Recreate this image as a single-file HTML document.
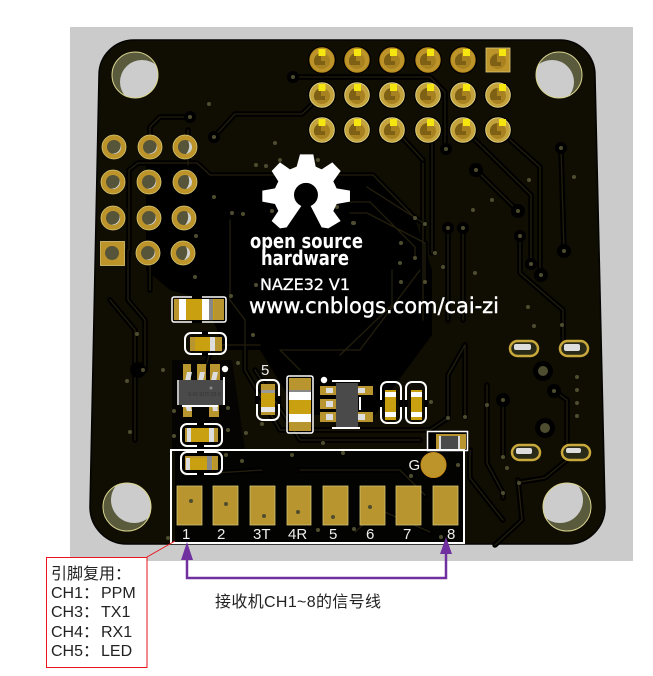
<!DOCTYPE html>
<html><head><meta charset="utf-8"><style>
html,body{margin:0;padding:0;background:#fff}
svg{display:block}
text{font-family:"Liberation Sans","Noto Sans CJK SC",sans-serif}
.s{font-family:"DejaVu Sans","Liberation Sans",sans-serif;fill:#fff}
.l{font-size:15px;fill:#eee}
.t{fill:#222;font-size:16px}
</style></head><body>
<svg width="653" height="676" viewBox="0 0 653 676" xmlns="http://www.w3.org/2000/svg">
<defs>
<clipPath id="h1"><circle cx="135" cy="75" r="23"/></clipPath>
<clipPath id="h2"><circle cx="559" cy="75" r="23"/></clipPath>
<clipPath id="h3"><circle cx="127" cy="507" r="24"/></clipPath>
<clipPath id="h4"><circle cx="567" cy="507" r="24"/></clipPath>
<g id="tp"><circle r="12.3" fill="#bd9429" stroke="#b5861a" stroke-width=".8"/><circle cy="1" r="8" fill="#a88220"/><path d="M-1 -7A8 8 0 0 0 -7 5L3 5L3 1L-1 1Z" fill="#7e6114"/></g>
<g id="tq"><circle r="12.3" fill="#c4a23c" stroke="#dccf80" stroke-width="1"/><circle cy="1" r="8" fill="#a88220"/><path d="M-1 -7A8 8 0 0 0 -7 5L3 5L3 1L-1 1Z" fill="#7e6114"/></g>
<g id="lp"><circle r="12" fill="#bd9429" stroke="#d6c778" stroke-width=".8"/><circle r="7" fill="#56553a"/><path d="M6.500 -3A7 7 0 0 1 -2.500 6.500A8 8 0 0 0 6.500 -3Z" fill="#d2d2cc"/></g>
<g id="lr"><circle r="12" fill="#bd9429" stroke="#d6c778" stroke-width=".8"/><circle r="7" fill="#56553a"/><path d="M3 -6.300A7 7 0 0 1 1 7A12 12 0 0 0 3 -6.300Z" fill="#d2d2cc"/></g>
</defs>
<rect width="653" height="676" fill="#fff"/>
<rect x="70" y="27" width="563" height="534" fill="#cbcbcb"/>
<!-- board -->
<path d="M134 40H560A35 35 0 0 1 595 75L605 507A37 37 0 0 1 568 544H127A37 37 0 0 1 90 507L99 75A35 35 0 0 1 134 40Z" fill="#100d03" stroke="#040402" stroke-width="1.500"/>
<!-- black pour -->
<path d="M146 165H195L210 177H372L416 222L432 270V335L395 385L375 415H300L260 350H225L205 300L170 290L146 270Z" fill="#000"/>
<path d="M172 360L232 360L245 450H172Z" fill="#050402"/>
<path d="M175 450H465V544H175Z" fill="#030302"/>
<!-- trace halo -->
<g fill="none" stroke-linejoin="round" stroke-linecap="round">
<g stroke="#000" stroke-width="5.500">
<path d="M190 117H160L150 127V147M214 137L235 114H302L322 95M293 77H430L445 92V149M129 250V170L138 163H197L210 175H373L415 218M367 187L425 224M350 202H370L415 247V258M350 213H367L425 243V282M423 163V320M400 135L423 160M432 140V253M448 228V320M463 228V320M475 140L531 195V264M510 140L540 167V275M476 170L518 211M520 236V273L563 310V345M561 148L564 251M487 385V463L503 493V498M503 400V455M554 391L567 400V460L545 478L520 482M448 418V375L465 345V417M188 130V165M150 260V290M128 250V300L145 320V370M110 300L135 330V440M230 220V300L245 320V370L280 430H430L448 418M255 370L300 440H420M300 370L280 350L360 350L420 270M205 370L212 345H260M185 475L262 470M300 470L400 470L425 495M355 532L380 510L430 532M470 450V478L495 510L503 520M495 545L522 520L518 480M340 355L392 305L392 270"/>
</g>
<g stroke="#231e0c" stroke-width="1.300">
<path d="M190 117H160L150 127V147M214 137L235 114H302L322 95M293 77H430L445 92V149M129 250V170L138 163H197L210 175H373L415 218M367 187L425 224M350 202H370L415 247V258M350 213H367L425 243V282M423 163V320M400 135L423 160M432 140V253M448 228V320M463 228V320M475 140L531 195V264M510 140L540 167V275M476 170L518 211M520 236V273L563 310V345M561 148L564 251M487 385V463L503 493V498M503 400V455M554 391L567 400V460L545 478L520 482M448 418V375L465 345V417M188 130V165M150 260V290M128 250V300L145 320V370M110 300L135 330V440M230 220V300L245 320V370L280 430H430L448 418M255 370L300 440H420M300 370L280 350L360 350L420 270M205 370L212 345H260M185 475L262 470M300 470L400 470L425 495M355 532L380 510L430 532M470 450V478L495 510L503 520M495 545L522 520L518 480M340 355L392 305L392 270"/>
</g>
</g>
<!-- vias -->
<g fill="#000"><circle cx="190" cy="117" r="6"/><circle cx="214" cy="137" r="6"/><circle cx="293" cy="77" r="6"/><circle cx="446" cy="149" r="6"/><circle cx="476" cy="170" r="7"/><circle cx="518" cy="211" r="7"/><circle cx="520" cy="236" r="6"/><circle cx="561" cy="148" r="6"/><circle cx="564" cy="251" r="7"/><circle cx="531" cy="264" r="6"/><circle cx="541" cy="275" r="7"/><circle cx="448" cy="228" r="6"/><circle cx="463" cy="228" r="6"/><circle cx="243" cy="214" r="6"/><circle cx="138" cy="370" r="8"/><circle cx="543" cy="371" r="10"/><circle cx="545" cy="428" r="10"/><circle cx="554" cy="391" r="7"/><circle cx="503" cy="400" r="7"/></g>
<g fill="#4f4d30">
<circle cx="209" cy="104" r="2"/><circle cx="190" cy="117" r="2"/><circle cx="214" cy="137" r="2"/><circle cx="293" cy="77" r="2"/><circle cx="275" cy="143" r="2"/><circle cx="256" cy="165" r="2"/><circle cx="266" cy="166" r="2"/><circle cx="280" cy="160" r="2"/><circle cx="318" cy="160" r="2"/><circle cx="214" cy="197" r="2"/><circle cx="232" cy="213" r="2"/><circle cx="243" cy="214" r="2"/><circle cx="272" cy="211" r="2"/><circle cx="337" cy="207" r="2"/><circle cx="354" cy="223" r="2"/><circle cx="196" cy="236" r="2"/><circle cx="195" cy="277" r="2"/><circle cx="256" cy="285" r="2"/><circle cx="446" cy="149" r="2"/><circle cx="476" cy="170" r="2"/><circle cx="518" cy="211" r="2"/><circle cx="520" cy="236" r="2"/><circle cx="561" cy="148" r="2"/><circle cx="564" cy="251" r="2"/><circle cx="531" cy="264" r="2"/><circle cx="541" cy="275" r="2"/><circle cx="529" cy="180" r="2"/><circle cx="574" cy="177" r="2"/><circle cx="492" cy="200" r="2"/><circle cx="473" cy="210" r="2"/><circle cx="415" cy="218" r="2"/><circle cx="425" cy="224" r="2"/><circle cx="353" cy="223" r="2"/><circle cx="401" cy="243" r="2"/><circle cx="415" cy="258" r="2"/><circle cx="400" cy="263" r="2"/><circle cx="401" cy="282" r="2"/><circle cx="425" cy="282" r="2"/><circle cx="443" cy="267" r="2"/><circle cx="435" cy="253" r="2"/><circle cx="448" cy="228" r="2"/><circle cx="463" cy="228" r="2"/><circle cx="475" cy="273" r="2"/><circle cx="528" cy="307" r="2"/><circle cx="137" cy="334" r="2"/><circle cx="127" cy="381" r="2"/><circle cx="130" cy="432" r="2"/><circle cx="143" cy="370" r="2"/><circle cx="163" cy="370" r="2"/><circle cx="174" cy="411" r="2"/><circle cx="174" cy="436" r="2"/><circle cx="253" cy="335" r="2"/><circle cx="238" cy="363" r="2"/><circle cx="228" cy="408" r="2"/><circle cx="228" cy="430" r="2"/><circle cx="246" cy="433" r="2"/><circle cx="262" cy="424" r="2"/><circle cx="323" cy="443" r="2"/><circle cx="226" cy="455" r="2"/><circle cx="242" cy="461" r="2"/><circle cx="292" cy="455" r="2"/><circle cx="343" cy="453" r="2"/><circle cx="411" cy="476" r="2"/><circle cx="458" cy="465" r="2"/><circle cx="231" cy="296" r="2"/><circle cx="431" cy="402" r="2"/><circle cx="448" cy="418" r="2"/><circle cx="465" cy="417" r="2"/><circle cx="487" cy="405" r="2"/><circle cx="503" cy="400" r="2"/><circle cx="503" cy="457" r="2"/><circle cx="507" cy="468" r="2"/><circle cx="519" cy="483" r="2"/><circle cx="503" cy="493" r="2"/><circle cx="554" cy="391" r="2"/><circle cx="577" cy="377" r="2"/><circle cx="577" cy="390" r="2"/><circle cx="577" cy="403" r="2"/><circle cx="577" cy="416" r="2"/><circle cx="534" cy="326" r="2"/><circle cx="562" cy="325" r="2"/><circle cx="168" cy="538" r="2"/><circle cx="318" cy="530" r="2"/><circle cx="354" cy="529" r="2"/><circle cx="441" cy="537" r="2"/>
<circle cx="543" cy="371" r="5"/><circle cx="545" cy="428" r="5"/>
</g>
<!-- mounting holes -->
<g fill="#5a5a3c">
<circle cx="135" cy="75" r="23"/><circle cx="559" cy="75" r="23"/><circle cx="127" cy="507" r="24"/><circle cx="567" cy="507" r="24"/>
</g>
<g fill="#cccccc">
<circle cx="142" cy="82" r="22" clip-path="url(#h1)"/><circle cx="552" cy="82" r="22" clip-path="url(#h2)"/><circle cx="134" cy="500" r="23" clip-path="url(#h3)"/><circle cx="560" cy="500" r="23" clip-path="url(#h4)"/>
</g>
<g fill="none" stroke="#d9d58e" stroke-width="1"><circle cx="135" cy="75" r="23"/><circle cx="559" cy="75" r="23"/><circle cx="127" cy="507" r="24"/><circle cx="567" cy="507" r="24"/></g>
<!-- top header -->
<g fill="#000"><circle cx="322" cy="60" r="14"/><circle cx="357" cy="60" r="14"/><circle cx="392" cy="60" r="14"/><circle cx="428" cy="60" r="14"/><circle cx="463" cy="60" r="14"/><circle cx="322" cy="95" r="14"/><circle cx="357" cy="95" r="14"/><circle cx="392" cy="95" r="14"/><circle cx="428" cy="95" r="14"/><circle cx="463" cy="95" r="14"/><circle cx="498" cy="95" r="14"/><circle cx="322" cy="130" r="14"/><circle cx="357" cy="130" r="14"/><circle cx="392" cy="130" r="14"/><circle cx="428" cy="130" r="14"/><circle cx="463" cy="130" r="14"/><circle cx="498" cy="130" r="14"/></g>
<use href="#tp" x="322" y="60"/><use href="#tp" x="357" y="60"/><use href="#tp" x="392" y="60"/><use href="#tp" x="428" y="60"/><use href="#tp" x="463" y="60"/>
<rect x="486" y="48" width="24" height="24" fill="#bd9429" stroke="#d9c97a" stroke-width=".8"/><circle cx="498" cy="61" r="8" fill="#a88220"/><path d="M497 54A8 8 0 0 0 491 66L501 66L501 62L497 62Z" fill="#7e6114"/>
<use href="#tq" x="322" y="95"/><use href="#tq" x="357" y="95"/><use href="#tq" x="392" y="95"/><use href="#tq" x="428" y="95"/><use href="#tq" x="463" y="95"/><use href="#tq" x="498" y="95"/>
<use href="#tq" x="322" y="130"/><use href="#tq" x="357" y="130"/><use href="#tq" x="392" y="130"/><use href="#tq" x="428" y="130"/><use href="#tq" x="463" y="130"/><use href="#tq" x="498" y="130"/>
<g fill="#f4e60e">
<rect x="318.500" y="49" width="7" height="7"/><rect x="354" y="49" width="7" height="7"/><rect x="390" y="49" width="7" height="7"/><rect x="427" y="49" width="7" height="7"/><rect x="463" y="49" width="7" height="7"/><rect x="499" y="49" width="7" height="7"/>
<rect x="318.500" y="84" width="7" height="7"/><rect x="354" y="84" width="7" height="7"/><rect x="390" y="84" width="7" height="7"/><rect x="427" y="84" width="7" height="7"/><rect x="463" y="84" width="7" height="7"/><rect x="499" y="84" width="7" height="7"/>
<rect x="318.500" y="119" width="7" height="7"/><rect x="354" y="119" width="7" height="7"/><rect x="390" y="119" width="7" height="7"/><rect x="427" y="119" width="7" height="7"/><rect x="463" y="119" width="7" height="7"/><rect x="499" y="119" width="7" height="7"/>
</g>
<!-- left header -->
<use href="#lp" x="114" y="147"/><use href="#lp" x="150" y="147"/><use href="#lr" x="185" y="147"/>
<use href="#lp" x="113" y="182"/><use href="#lp" x="149" y="182"/><use href="#lr" x="185" y="182"/>
<use href="#lp" x="113" y="218"/><use href="#lp" x="149" y="218"/><use href="#lr" x="184" y="218"/>
<rect x="100.500" y="241.500" width="24" height="24" fill="#bd9429" stroke="#d9c97a" stroke-width=".8"/><circle cx="112" cy="253" r="7" fill="#56553a"/>
<use href="#lp" x="148" y="253"/><use href="#lr" x="183" y="253"/>
<!-- logo -->
<path transform="translate(70,20) scale(.3333)" fill="#fff" d="M690 403L730 403L737 440L755 448L787 427L812 453L790 484L800 505L840 512L840 545L800 552L790 573L812 603L775 625L755 622L722 558A36 36 0 1 0 694 558L650 622L630 625L605 603L625 573L615 552L577 545L577 512L615 505L625 484L605 453L630 427L660 448L680 440Z"/>
<text class="s" x="250" y="248" font-size="20" font-weight="bold" textLength="113" lengthAdjust="spacingAndGlyphs">open source</text>
<text class="s" x="261" y="265" font-size="20" font-weight="bold" textLength="88" lengthAdjust="spacingAndGlyphs">hardware</text>
<text class="s" x="260" y="290" font-size="16" textLength="90" stroke="#fff" stroke-width=".3">NAZE32 V1</text>
<text class="s" x="249" y="313" font-size="21" textLength="250" stroke="#fff" stroke-width=".4">www.cnblogs.com/cai-zi</text>
<!-- R top -->
<g>
<rect x="172" y="297" width="54" height="25" rx="2" fill="none" stroke="#fff" stroke-width="1.500"/>
<rect x="174" y="299" width="50" height="21" fill="#b8952f"/><rect x="180" y="299" width="34" height="21" fill="#c9a010"/>
<rect x="179" y="299" width="7" height="21" fill="#fff"/><rect x="202" y="299" width="7" height="21" fill="#fff"/><rect x="209" y="299" width="4" height="21" fill="#888"/>
<rect x="192" y="296" width="10" height="3" fill="#000"/><rect x="192" y="320" width="10" height="3" fill="#000"/>
</g>
<!-- caps -->
<g>
<rect x="185" y="333" width="41" height="21" rx="6" fill="none" stroke="#fff" stroke-width="2"/>
<rect x="190" y="337" width="32" height="14" fill="#b8952f"/><rect x="195" y="337" width="15" height="14" fill="#c9a010"/><rect x="210" y="337" width="5" height="14" fill="#ddd"/>
<rect x="202" y="331" width="6" height="4" fill="#000"/><rect x="202" y="352" width="6" height="4" fill="#000"/>
<rect x="181" y="424" width="41" height="22" rx="6" fill="none" stroke="#fff" stroke-width="2"/>
<rect x="185" y="428" width="33" height="14" fill="#b8952f"/><rect x="188" y="428" width="25" height="14" fill="#c9a010"/><rect x="187" y="428" width="4" height="14" fill="#ddd"/><rect x="209" y="428" width="5" height="14" fill="#ddd"/>
<rect x="197" y="423" width="7" height="3" fill="#000"/><rect x="197" y="444" width="7" height="3" fill="#000"/>
<rect x="181" y="452" width="41" height="22" rx="6" fill="none" stroke="#fff" stroke-width="2"/>
<rect x="185" y="456" width="33" height="14" fill="#b8952f"/><rect x="188" y="458" width="25" height="12" fill="#c9a010"/><rect x="186" y="458" width="4" height="12" fill="#ddd"/><rect x="207" y="456" width="5" height="14" fill="#888"/>
<rect x="197" y="451" width="7" height="3" fill="#000"/><rect x="197" y="472" width="7" height="3" fill="#000"/>
</g>
<!-- SOT -->
<g>
<rect x="183" y="364" width="8" height="17" fill="#b8952f"/><rect x="197" y="364" width="9" height="17" fill="#b8952f"/><rect x="210" y="364" width="10" height="17" fill="#b8952f"/>
<rect x="183" y="405" width="9" height="12" fill="#b8952f"/><rect x="209" y="405" width="10" height="12" fill="#b8952f"/>
<path d="M187 372h5l-2 9h-5zM200 372h5l-2 9h-5zM213 372h5l-2 9h-5zM185 405h5l2 6h-5zM212 405h5l1 6h-5z" fill="#ddd"/>
<rect x="177" y="380" width="46" height="25" fill="#4a4a4a"/><rect x="177" y="380" width="2" height="25" fill="#bbb"/>
<rect x="182" y="405" width="36" height="2" fill="#fff"/>
<rect x="223" y="377" width="2" height="28" fill="#fff"/>
<text x="188" y="396" font-size="5" fill="#333">S-IS SOT-23-5</text>
<circle cx="225" cy="369" r="3.200" fill="#fff"/><circle cx="211" cy="388" r="1.500" fill="#888"/>
</g>
<!-- label 5 and 0603 -->
<text x="261" y="375" font-size="15" fill="#eee">5</text>
<rect x="257" y="380" width="22" height="40" rx="6" fill="none" stroke="#fff" stroke-width="2"/>
<rect x="261" y="384" width="14" height="31" fill="#b8952f"/><rect x="261" y="392" width="14" height="19" fill="#c9a010"/><rect x="261" y="407" width="14" height="5" fill="#e8e8e8"/><rect x="261" y="390" width="14" height="3" fill="#999"/>
<rect x="255" y="396" width="4" height="8" fill="#000"/><rect x="277" y="396" width="4" height="8" fill="#000"/>
<!-- big cap -->
<rect x="287" y="376" width="26" height="57" rx="2" fill="none" stroke="#fff" stroke-width="1.500"/>
<rect x="289" y="378" width="22" height="53" fill="#b8952f"/><rect x="289" y="399" width="22" height="15" fill="#c9a010"/><rect x="289" y="392" width="22" height="8" fill="#fff"/><rect x="289" y="414" width="22" height="8" fill="#fff"/><rect x="289" y="390" width="22" height="2" fill="#888"/>
<!-- SOIC -->
<circle cx="324" cy="380" r="3.200" fill="#fff"/>
<g fill="#b8952f"><rect x="320" y="386" width="16" height="9"/><rect x="320" y="399" width="16" height="10"/><rect x="320" y="412" width="16" height="10"/><rect x="358" y="386" width="15" height="9"/><rect x="358" y="412" width="15" height="10"/></g>
<g fill="#ddd"><rect x="326" y="388" width="7" height="5"/><rect x="326" y="401" width="7" height="6"/><rect x="326" y="414" width="7" height="6"/><rect x="358" y="388" width="7" height="5"/><rect x="358" y="414" width="7" height="6"/></g>
<rect x="336" y="383" width="22" height="44" fill="#4a4a4a"/>
<rect x="332" y="380" width="28" height="2" fill="#fff"/><rect x="332" y="427" width="28" height="2" fill="#fff"/><rect x="359" y="397" width="2" height="13" fill="#fff"/><rect x="333" y="427" width="2" height="2" fill="#fff"/>
<!-- caps right -->
<g>
<rect x="381" y="382" width="20" height="41" rx="6" fill="none" stroke="#fff" stroke-width="2"/>
<rect x="385" y="390" width="11" height="30" fill="#c9a010"/><rect x="385" y="392" width="11" height="5" fill="#fff"/><rect x="385" y="412" width="11" height="5" fill="#fff"/>
<rect x="379" y="400" width="4" height="7" fill="#000"/><rect x="399" y="400" width="4" height="7" fill="#000"/>
<rect x="406" y="382" width="20" height="41" rx="6" fill="none" stroke="#fff" stroke-width="2"/>
<rect x="411" y="390" width="11" height="30" fill="#c9a010"/><rect x="411" y="392" width="11" height="5" fill="#fff"/><rect x="411" y="412" width="11" height="5" fill="#fff"/>
<rect x="404" y="400" width="4" height="7" fill="#000"/><rect x="424" y="400" width="4" height="7" fill="#000"/>
</g>
<!-- comp at right of frame -->
<rect x="427.500" y="431.500" width="40" height="19" fill="#000" stroke="#fff" stroke-width="1.500"/>
<rect x="436" y="434" width="30" height="15" fill="#b8952f"/><rect x="441" y="436" width="17" height="13" fill="#4a4a4a"/><rect x="439" y="436" width="2" height="13" fill="#ddd"/><rect x="458" y="436" width="2" height="13" fill="#ddd"/>
<!-- ovals -->
<g fill="#2a2a18" stroke="#c9a83c" stroke-width="2.500">
<rect x="510" y="341" width="28" height="15" rx="7.500"/><rect x="560" y="341" width="28" height="15" rx="7.500"/><rect x="512" y="445" width="28" height="15" rx="7.500"/><rect x="562" y="445" width="28" height="15" rx="7.500"/>
</g>
<g fill="#ddd"><rect x="514" y="344" width="17" height="6" rx="2"/><rect x="564" y="344" width="16" height="7" rx="2"/><rect x="516" y="448" width="16" height="6" rx="2"/><rect x="566" y="448" width="15" height="5" rx="2"/></g>
<!-- frame -->
<rect x="171" y="450" width="293" height="93" fill="none" stroke="#fff" stroke-width="2"/>
<!-- channel pads -->
<g fill="#b8952f" stroke="#d1c273" stroke-width=".8">
<rect x="177" y="486" width="25" height="39"/><rect x="213" y="486" width="25" height="39"/><rect x="250" y="486" width="25" height="39"/><rect x="287" y="486" width="24" height="39"/><rect x="323" y="486" width="25" height="39"/><rect x="360" y="486" width="25" height="39"/><rect x="396" y="486" width="25" height="39"/><rect x="433" y="486" width="25" height="39"/>
</g>
<g fill="#4f4d30"><circle cx="191" cy="501" r="2"/><circle cx="226" cy="504" r="2"/><circle cx="264" cy="516" r="2"/><circle cx="298" cy="512" r="2"/><circle cx="333" cy="517" r="2"/><circle cx="370" cy="507" r="2"/></g>
<circle cx="433.500" cy="465" r="12.500" fill="#bd9429" stroke="#c78a1c"/>
<text class="l" x="408.500" y="470">G</text>
<text class="l" x="182" y="539">1</text><text class="l" x="217" y="539">2</text><text class="l" x="253" y="539">3T</text><text class="l" x="288" y="539">4R</text><text class="l" x="329" y="539">5</text><text class="l" x="366" y="539">6</text><text class="l" x="403" y="539">7</text><text class="l" x="447" y="539">8</text>
<!-- purple arrow -->
<path d="M187 558V578H446V552" fill="none" stroke="#7030a0" stroke-width="2.500"/>
<path d="M187 542L193 560H181Z M446 537L452 554H440Z" fill="#7030a0"/>
<text class="t" x="215" y="607" textLength="166">接收机CH1~8的信号线</text>
<!-- red callout -->
<path d="M147 557L175 541" stroke="#e8131b" stroke-width="1" fill="none"/>
<rect x="46.500" y="557.500" width="100.500" height="110" fill="#fff" stroke="#e8131b" stroke-width="1"/>
<text class="t" x="51" y="579">引脚复用：</text>
<text class="t" x="51" y="598">CH1：</text><text class="t" x="101" y="598">PPM</text>
<text class="t" x="51" y="617">CH3：</text><text class="t" x="101" y="617">TX1</text>
<text class="t" x="51" y="637">CH4：</text><text class="t" x="101" y="637">RX1</text>
<text class="t" x="51" y="656">CH5：</text><text class="t" x="101" y="656">LED</text>
</svg>
</body></html>
